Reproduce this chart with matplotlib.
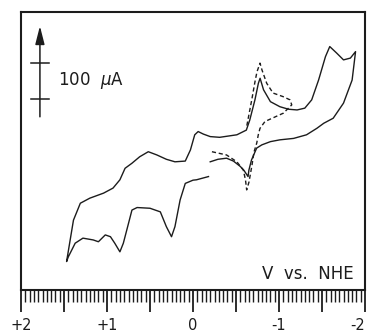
import matplotlib
matplotlib.use('Agg')
import matplotlib.pyplot as plt
from matplotlib.ticker import MultipleLocator, FixedLocator

# potential (V vs. NHE) and current (uA)
# solid CV: start near -0.2 V, out to +1.5 V, back over to -1.9 V and return
cv_v = [-0.18, -0.04, 0.00, 0.09, 0.15, 0.21, 0.25, 0.31, 0.38, 0.50, 0.65, 0.71, 0.75, 0.81,
        0.85, 0.91, 0.96, 1.02, 1.10, 1.16, 1.28, 1.37, 1.45, 1.47,
        1.39, 1.31, 1.20, 1.04, 0.93, 0.85, 0.79, 0.71, 0.62, 0.52, 0.42, 0.31, 0.21, 0.09,
        0.03, -0.02, -0.06, -0.12, -0.20, -0.31, -0.51, -0.62, -0.66, -0.72, -0.76, -0.78,
        -0.82, -0.90, -1.01, -1.11, -1.21, -1.30, -1.38, -1.46, -1.54, -1.59, -1.67, -1.75,
        -1.83, -1.89,
        -1.85, -1.75, -1.63, -1.52, -1.44, -1.32, -1.17, -1.01, -0.90, -0.80, -0.74, -0.68,
        -0.65, -0.64, -0.59, -0.55, -0.47, -0.39, -0.29, -0.20]
cv_i = [315, 306, 305, 296, 250, 176, 148, 176, 217, 227, 229, 222, 185, 130,
        106, 130, 148, 153, 134, 139, 144, 130, 92, 79,
        194, 241, 255, 269, 283, 306, 338, 352, 370, 384, 375, 363, 356, 358,
        389, 431, 440, 433, 426, 424, 431, 444, 472, 528, 574, 588,
        556, 523, 509, 502, 500, 505, 528, 583, 648, 676, 658, 639,
        644, 662,
        583, 519, 477, 463, 449, 431, 421, 417, 412, 403, 394, 361,
        333, 315, 333, 343, 358, 366, 363, 356]

# dashed CV: narrow window around the -0.7 V couple
dash_v = [-0.22, -0.39, -0.51, -0.585, -0.61, -0.624, -0.651, -0.686, -0.709, -0.741, -0.759,
          -0.779, -0.837, -0.93, -1.05, -1.148, -1.128, -1.047, -0.93, -0.857, -0.802, -0.779,
          -0.744, -0.721, -0.683, -0.624]
dash_i = [384, 375, 356, 333, 306, 278, 300, 347, 383, 408, 431,
          449, 468, 478, 491, 514, 528, 537, 547, 574, 611, 630,
          606, 579, 528, 454]

major_ticks = [2, 1.5, 1, 0.5, 0, -0.5, -1, -1.5, -2]
major_labels = ['+2', '', '+1', '', '0', '', '-1', '', '-2']

fig = plt.figure(figsize=(3.73, 3.36), dpi=100)
ax = fig.add_axes([0.0563, 0.1369, 0.9223, 0.8274])

ink = '#1c1c1c'
ax.plot(cv_v, cv_i, color=ink, lw=1.0)
ax.plot(dash_v, dash_i, color=ink, lw=1.0, linestyle=(0, (3, 2)))

# 100 uA scale bar
ax.annotate('', xy=(1.78, 733), xytext=(1.78, 481),
            arrowprops=dict(arrowstyle='-|>,head_length=1.1,head_width=0.28',
                            color=ink, lw=1.1, shrinkA=0, shrinkB=0))
ax.plot([1.88, 1.68], [631, 631], color=ink, lw=1.1)
ax.plot([1.88, 1.68], [531, 531], color=ink, lw=1.1)
ax.text(1.57, 581, '100  $\\mu$A', fontsize=12, va='center', ha='left', color=ink)

ax.text(0.968, 0.058, 'V  vs.  NHE', transform=ax.transAxes, fontsize=12,
        ha='right', va='center', color=ink)

ax.set_xlim(2, -2)
ax.set_ylim(0, 772)
ax.xaxis.set_major_locator(FixedLocator(major_ticks))
ax.set_xticklabels(major_labels)
ax.xaxis.set_minor_locator(MultipleLocator(0.05))
ax.tick_params(axis='x', which='major', direction='out', length=16, width=1.3,
               labelsize=10.5, pad=4, colors=ink)
ax.tick_params(axis='x', which='minor', direction='out', length=8.5, width=1.0, colors=ink)
# keep the end labels inside the figure
tl = ax.get_xticklabels()
tl[-1].set_horizontalalignment('right')
tl[-1].set_x(-2)
ax.set_yticks([])
for s in ax.spines.values():
    s.set_linewidth(1.5)
    s.set_color(ink)

fig.savefig('out.png', dpi=100)
